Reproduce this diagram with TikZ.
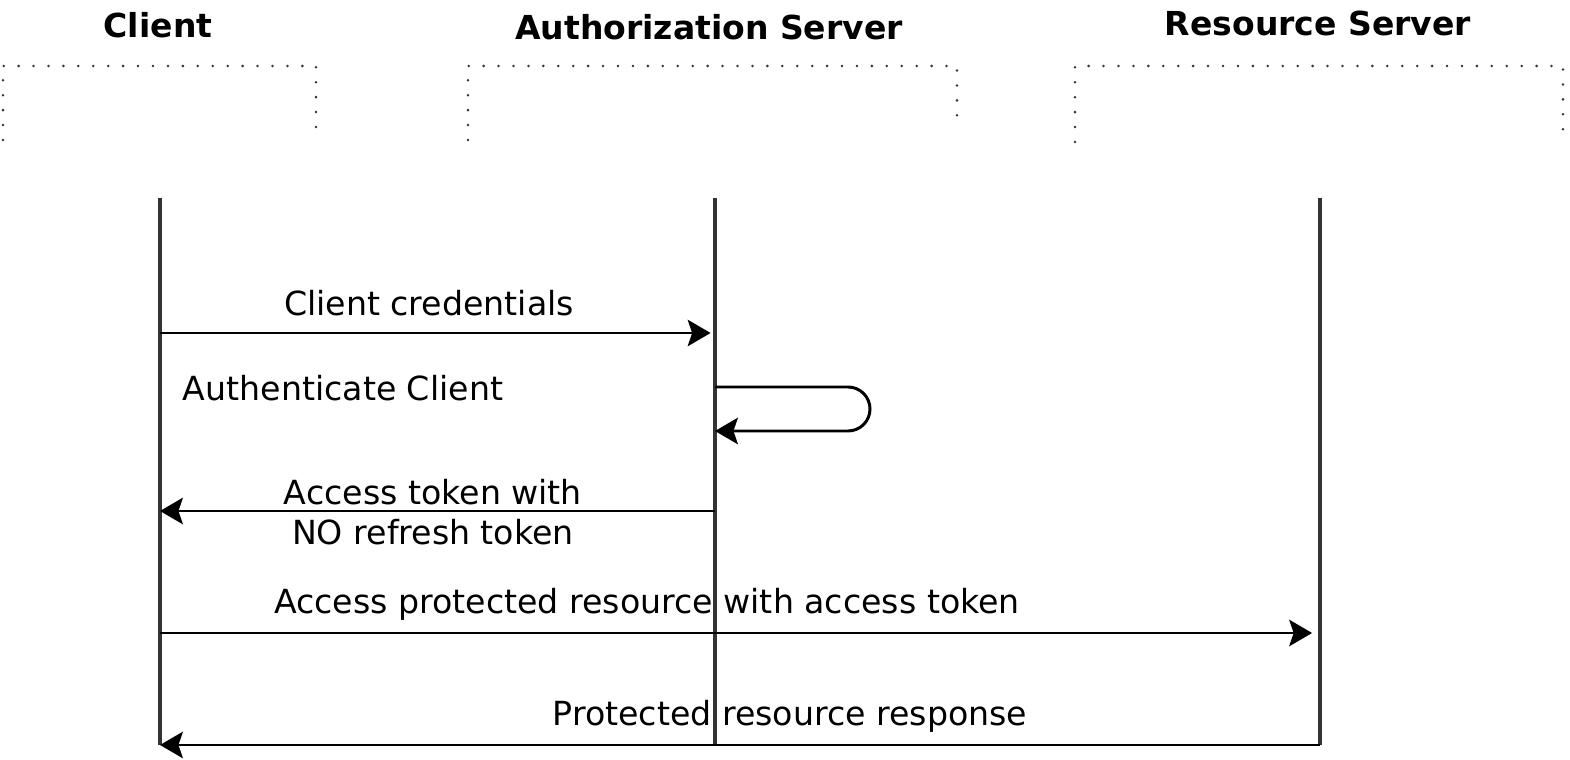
\documentclass[tikz,border=0pt]{standalone}
\usepackage{fontspec}
\setmainfont{DejaVu Sans}
\usetikzlibrary{arrows.meta}
\tikzset{
  lifeline/.style={draw=black!80,line width=1.8pt},
  msg/.style={line width=1.7pt,-{Stealth[length=13pt,width=15pt,inset=2.5pt]}},
  grp/.style={draw=black!80,line width=1.6pt,dash pattern=on 0pt off 8.5pt,line cap=round},
  actor/.style={font=\fontsize{18.8}{22}\selectfont\bfseries},
  lbl/.style={font=\fontsize{18.9}{22}\selectfont}
}

\begin{document}
\begin{tikzpicture}[x=0.02cm,y=-0.02cm]
\useasboundingbox (0,0) rectangle (1570,760);

% actors
\node[actor] (client) at (158,25) {Client};
\node[actor] (authsrv) at (709,27) {Authorization Server};
\node[actor] (ressrv) at (1318,23) {Resource Server};

% dotted frames
\draw[grp](3,140)--(3,66)--(316,66)--(316,130);
\draw[grp](468,140)--(468,66)--(957,66)--(957,130);
\draw[grp](1075,142)--(1075,66)--(1563,66)--(1563,132);

% lifelines
\coordinate (ctop) at (160,198);
\coordinate (cbot) at (160,745);
\coordinate (atop) at (715,198);
\coordinate (abot) at (715,745);
\coordinate (rtop) at (1320,198);
\coordinate (rbot) at (1320,745);
\foreach \n in {c,a,r}
{
    \draw[lifeline](\n top)--(\n bot);
}

% messages
\coordinate (c1) at (160,333);
\coordinate (a1) at (715,333);
\draw[msg,shorten >=2.5pt](c1)--(a1);
\node[lbl] (lcred) at (429,303) {Client credentials};

\coordinate (a2) at (715,387);
\coordinate (a3) at (715,431);
\draw[msg](a2)--(848,387) arc(-90:90:22)--(a3);
\node[lbl] (lauth) at (343,388) {Authenticate Client};

\coordinate (a4) at (715,511);
\coordinate (c4) at (160,511);
\draw[msg](a4)--(c4);
\node[lbl] (ltok1) at (433,492) {Access token with};
\node[lbl] (ltok2) at (433,532) {NO refresh token};

\coordinate (c5) at (160,633);
\coordinate (r5) at (1320,633);
\draw[msg,shorten >=4.5pt](c5)--(r5);
\node[lbl] (lreq) at (647,604) {Access protected resource with access token};

\draw[msg](rbot)--(cbot);
\node[lbl] (lresp) at (790,716) {Protected resource response};

\end{tikzpicture}
\end{document}
